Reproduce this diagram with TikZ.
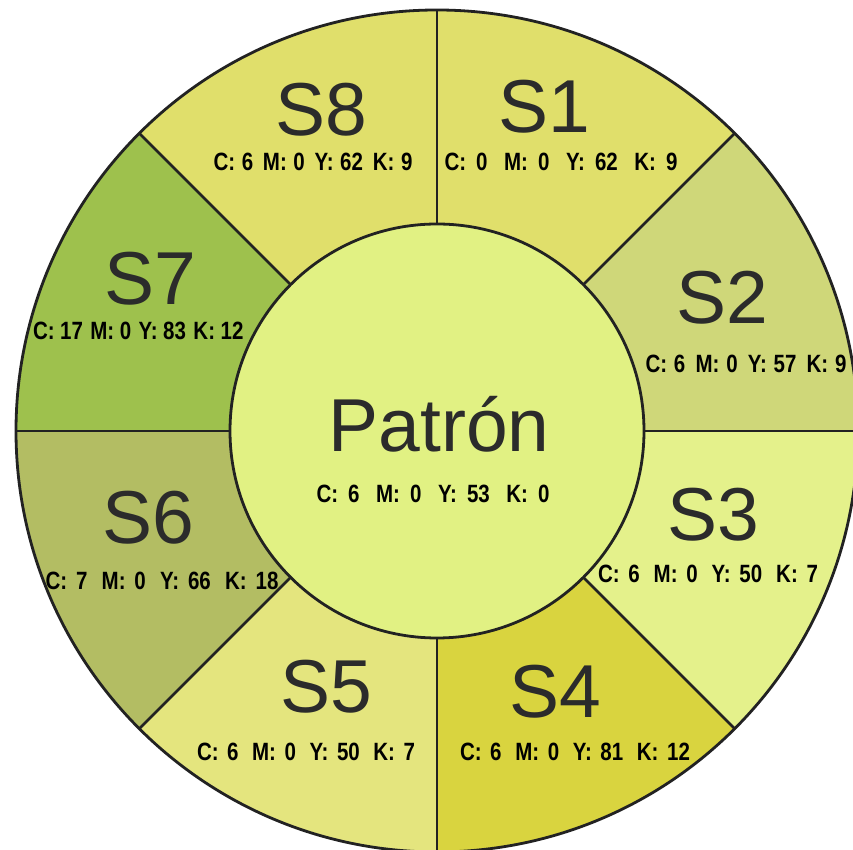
\documentclass[tikz,border=0pt]{standalone}
\usepackage{fontspec}
\usetikzlibrary{calc}
\setmainfont{Liberation Sans}
\newfontfamily\cmykfont[FakeStretch=0.82]{Liberation Sans}
\newcommand{\cgap}{\hspace{.22em plus 0.5fil}}
\newcommand{\ggap}{\hspace{.3em plus 1fil}}
\newcommand{\cmykline}[5]{\makebox[#5][s]{C:\cgap#1\ggap M:\cgap#2\ggap Y:\cgap#3\ggap K:\cgap#4}}
\definecolor{cA}{HTML}{E0DF6B}
\definecolor{cB}{HTML}{CFD779}
\definecolor{cC}{HTML}{E4F18B}
\definecolor{cD}{HTML}{D9D43F}
\definecolor{cE}{HTML}{E4E57E}
\definecolor{cF}{HTML}{B3BD63}
\definecolor{cG}{HTML}{9EC14D}
\definecolor{cH}{HTML}{E1F183}
\definecolor{ink}{HTML}{222222}
\definecolor{txt}{HTML}{2B2B2B}
\tikzset{
  big/.style={anchor=base, text=txt, inner sep=0pt, font=\fontsize{75}{75}\selectfont},
  small/.style={anchor=base, text=black, inner sep=0pt, font=\cmykfont\bfseries\fontsize{25}{25}\selectfont},
  edge/.style={draw=ink, line width=2.8pt}
}
\begin{document}
\begin{tikzpicture}[x=1pt,y=1pt]
\useasboundingbox (0,0) rectangle (853,850);
\clip (0,0) rectangle (853,850);
\fill[white] (0,0) rectangle (853,850);
\coordinate (O) at (437,419);
\def\R{421}
\def\r{207}
% sectors
\foreach \a/\b/\c in {45/90/cA, 0/45/cB, -45/0/cC, -90/-45/cD, -135/-90/cE, 180/225/cF, 135/180/cG, 90/135/cA}{
  \fill[\c] (O) -- ++(\a:\R) arc[start angle=\a, end angle=\b, radius=\R] -- cycle;
}
% dividers
\foreach \a in {0,45,...,315}{
  \draw[edge] ($(O)+(\a:\r)$) -- ($(O)+(\a:\R)$);
}
\draw[edge] (O) circle[radius=\R];
\filldraw[edge, fill=cH] (O) circle[radius=\r];
% labels
\node[big] (s8) at (321,714) {S8};
\node[small] (s8c) at (313,679) {\cmykline{6}{0}{62}{9}{199pt}};
\node[big] (s1) at (544,717) {S1};
\node[small] (s1c) at (561,679) {\cmykline{0}{0}{62}{9}{233pt}};
\node[big] (s7) at (150,545) {S7};
\node[small] (s7c) at (138,510) {\cmykline{17}{0}{83}{12}{210pt}};
\node[big] (s2) at (722,526) {S2};
\node[small] (s2c) at (746,477) {\cmykline{6}{0}{57}{9}{201pt}};
\node[big] (pat) at (439,398) {Patrón};
\node[small] (patc) at (433,347) {\cmykline{6}{0}{53}{0}{233pt}};
\node[big] (s6) at (148,306) {S6};
\node[small] (s6c) at (162,260) {\cmykline{7}{0}{66}{18}{233pt}};
\node[big] (s3) at (713,309) {S3};
\node[small] (s3c) at (708,267) {\cmykline{6}{0}{50}{7}{220pt}};
\node[big] (s5) at (326,137) {S5};
\node[small] (s5c) at (306,89) {\cmykline{6}{0}{50}{7}{218pt}};
\node[big] (s4) at (555,132) {S4};
\node[small] (s4c) at (575,89) {\cmykline{6}{0}{81}{12}{230pt}};
\end{tikzpicture}
\end{document}
